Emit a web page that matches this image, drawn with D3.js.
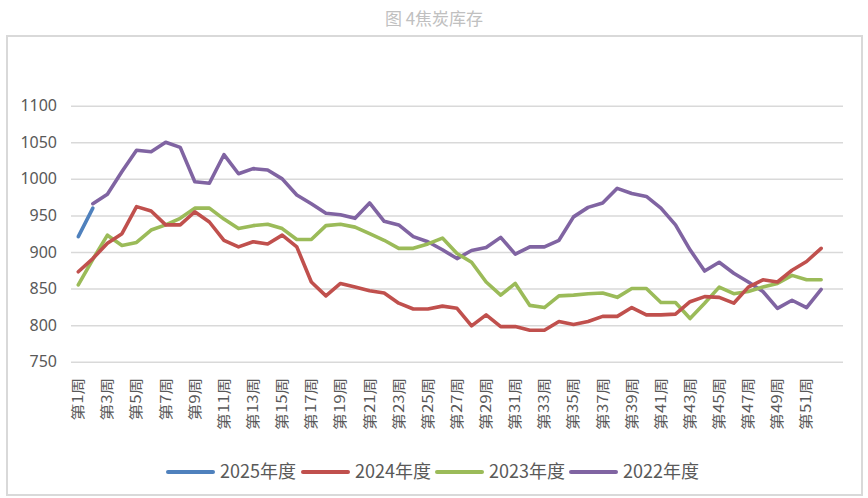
<!DOCTYPE html>
<html><head><meta charset="utf-8">
<script src="https://cdn.jsdelivr.net/npm/d3@7"></script>
<style>
html,body{margin:0;padding:0;background:#fff;}
svg{display:block;font-family:"Noto Sans","Noto Sans CJK SC",sans-serif;}
</style></head>
<body><svg id="c" width="868" height="498"></svg>
<script>
const titleText = "图 4焦炭库存";
const weeks = d3.range(1, 53).map(i => "第" + i + "周");
const categories = weeks.concat([""]);
const yTicks = [750, 800, 850, 900, 950, 1000, 1050, 1100];
const seriesNames = ["2025年度", "2024年度", "2023年度", "2022年度"];
const colors = ["#4F81BD", "#C0504D", "#9BBB59", "#8064A2"];

const v2025 = [921, 960];
const v2024 = [873, 891, 912, 925, 962, 956, 937, 937, 955, 941, 916, 907, 914, 911, 923, 907, 859, 840, 857, 852, 847, 844, 830, 822, 822, 826, 823, 799, 814, 798, 798, 793, 793, 805, 801, 805, 812, 812, 824, 814, 814, 815, 832, 839, 838, 830, 852, 862, 859, 875, 887, 905];
const v2023 = [855, 890, 923, 909, 913, 930, 937, 946, 960, 960, 945, 932, 936, 938, 932, 917, 917, 936, 938, 934, 925, 916, 905, 905, 911, 919, 898, 886, 859, 841, 857, 827, 824, 840, 841, 843, 844, 838, 850, 850, 831, 831, 809, 830, 852, 843, 846, 852, 857, 868, 862, 862];
const v2022 = [null, 966, 979, 1010, 1039, 1037, 1050, 1043, 996, 994, 1033, 1007, 1014, 1012, 1000, 978, 966, 953, 951, 946, 967, 942, 937, 921, 914, 903, 891, 902, 906, 920, 897, 907, 907, 916, 948, 961, 967, 987, 980, 976, 960, 937, 903, 874, 886, 871, 859, 846, 823, 834, 824, 849];
const seriesValues = [v2025, v2024, v2023, v2022];

(function () {
const svg = d3.select("#c");
const pL = 71, pR = 843, pT = 105.7, pB = 361.7;

// outer frame
svg.append("rect").attr("x", 7).attr("y", 36).attr("width", 855).attr("height", 459)
  .attr("fill", "none").attr("stroke", "#d9d9d9").attr("stroke-width", 2);

svg.append("text").attr("x", 434).attr("y", 25).attr("text-anchor", "middle")
  .attr("font-size", 17).attr("fill", "#c0c0c0")
  .attr("font-family", "'Noto Sans CJK SC',sans-serif").text(titleText);

const x = d3.scaleBand().domain(categories).range([pL, pR]).padding(0);
const cx = c => x(c) + x.bandwidth() / 2;
const y = d3.scaleLinear().domain([750, 1100]).range([pB, pT]);

// y axis with gridlines
const ya = svg.append("g").attr("transform", `translate(${pL},0)`)
  .call(d3.axisLeft(y).tickValues(yTicks).tickSize(-(pR - pL)).tickPadding(14).tickFormat(d3.format("d")));
ya.select(".domain").remove();
ya.selectAll(".tick line").attr("stroke", "#d9d9d9").attr("stroke-width", 1.5);
ya.selectAll(".tick text").attr("font-size", 16).attr("fill", "#595959")
  .attr("font-family", "'Noto Sans',sans-serif");

// x axis labels
const sx = 1.2;
const xa = svg.append("g").attr("transform", `translate(0,${pB})`)
  .call(d3.axisBottom(x).tickSize(0).tickFormat((d, i) => (i % 2 === 0 ? d : "")));
xa.select(".domain").remove();
xa.selectAll(".tick text")
  .attr("font-size", 14).attr("fill", "#595959")
  .attr("font-family", "'Noto Sans CJK SC',sans-serif")
  .attr("text-anchor", "end")
  .attr("transform", `rotate(-90) scale(${sx},1)`)
  .attr("x", -16 / sx).attr("y", 0).attr("dy", "0.35em");

// lines
const line = d3.line()
  .defined(d => d.v != null)
  .x(d => cx(weeks[d.i]))
  .y(d => y(d.v));

const drawOrder = [3, 2, 1, 0];
drawOrder.forEach(k => {
  const pts = seriesValues[k].map((v, i) => ({ i, v }));
  svg.append("path").datum(pts).attr("d", line)
    .attr("fill", "none").attr("stroke", colors[k]).attr("stroke-width", 3.6)
    .attr("stroke-linejoin", "round").attr("stroke-linecap", "round");
});

// legend
const legX = [167, 302, 436, 570];
const legY = 472;
seriesNames.forEach((name, k) => {
  const g = svg.append("g").attr("transform", `translate(${legX[k]},${legY})`);
  g.append("line").attr("x1", 1).attr("x2", 46).attr("y1", 0).attr("y2", 0)
    .attr("stroke", colors[k]).attr("stroke-width", 4).attr("stroke-linecap", "round");
  g.append("text").attr("x", 53).attr("y", 0).attr("dy", "0.36em")
    .attr("font-size", 18).attr("fill", "#595959")
    .attr("font-family", "'Noto Sans CJK SC',sans-serif").text(name);
});
})();
</script></body></html>
